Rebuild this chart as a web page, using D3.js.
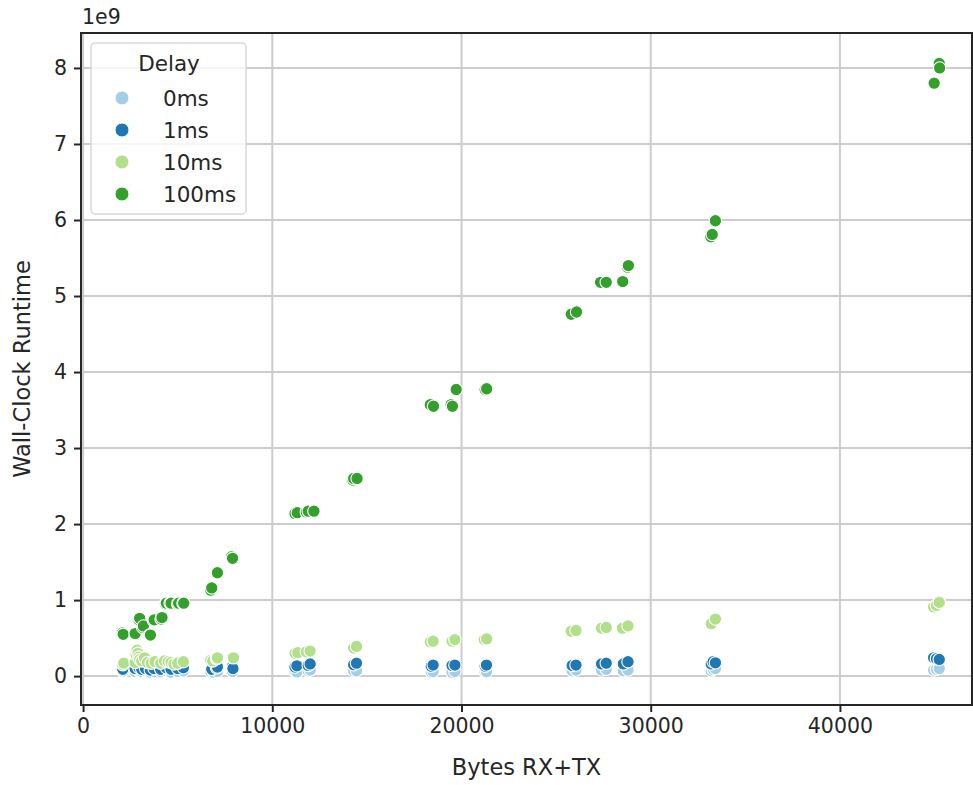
<!DOCTYPE html>
<html>
<head>
<meta charset="utf-8">
<script src="https://cdn.jsdelivr.net/npm/d3@7"></script>
<style>
  html, body { margin: 0; padding: 0; background: #ffffff; }
  svg { display: block; font-family: "DejaVu Sans", sans-serif; }
</style>
</head>
<body>
<svg id="chart" width="973" height="785"></svg>
<script>
// Delay levels and their colours (Paired palette)
const delays = ["0ms", "1ms", "10ms", "100ms"];
const colors = ["#a6cee3", "#1f78b4", "#b2df8a", "#33a02c"];

// Bytes exchanged (RX+TX) per run, one array per delay level
const bytes0ms = [2100, 2150, 2750, 2950, 3100, 3300, 3550, 3750, 4100, 4400, 4650, 5000, 5300,
  6750, 6900, 7100, 7850, 7900, 11200, 11300, 11900, 12000, 14300, 14450, 18400, 18500,
  19500, 19650, 21250, 21320, 25850, 26050, 27400, 27650, 28550, 28800, 33200, 33300, 33420,
  44950, 45100, 45250];
const runtime0ms = [0.06, 0.07, 0.06, 0.07, 0.06, 0.07, 0.05, 0.06, 0.06, 0.07, 0.05, 0.06, 0.07,
  0.06, 0.05, 0.06, 0.07, 0.06, 0.06, 0.055, 0.07, 0.08, 0.07, 0.07, 0.05, 0.06,
  0.05, 0.06, 0.05, 0.057, 0.07, 0.08, 0.08, 0.09, 0.07, 0.08, 0.07, 0.09, 0.10,
  0.08, 0.09, 0.10].map(v => v * 1e9);

const bytes1ms = [2100, 2750, 2950, 3100, 3300, 3550, 3750, 4100, 4400, 4650, 5000, 5300,
  6800, 7050, 7100, 7900, 7920, 11200, 11300, 11900, 12000, 14300, 14450, 18400, 18500,
  19500, 19650, 21250, 21320, 25850, 26050, 27400, 27650, 28550, 28800, 33200, 33300, 33420,
  44950, 45100, 45250];
const runtime1ms = [0.09, 0.10, 0.11, 0.09, 0.10, 0.08, 0.10, 0.09, 0.11, 0.09, 0.10, 0.11,
  0.09, 0.11, 0.12, 0.13, 0.10, 0.12, 0.135, 0.14, 0.16, 0.15, 0.17, 0.13, 0.145,
  0.14, 0.145, 0.13, 0.145, 0.14, 0.145, 0.16, 0.17, 0.16, 0.19, 0.16, 0.19, 0.175,
  0.24, 0.23, 0.22].map(v => v * 1e9);

const bytes10ms = [2100, 2150, 2750, 2800, 2850, 2900, 2950, 3000, 3100, 3250, 3400, 3600, 3800,
  4100, 4300, 4500, 4650, 4800, 5000, 5300, 6750, 6850, 7050, 7100, 7900, 7950,
  11200, 11350, 11800, 12000, 14300, 14450, 18350, 18500, 19500, 19650, 21200, 21330,
  25800, 26050, 27400, 27650, 28500, 28800, 33200, 33420, 44950, 45100, 45250];
const runtime10ms = [0.15, 0.17, 0.18, 0.28, 0.34, 0.30, 0.25, 0.22, 0.20, 0.24, 0.18, 0.17, 0.19,
  0.17, 0.20, 0.19, 0.18, 0.16, 0.17, 0.19, 0.21, 0.20, 0.23, 0.24, 0.25, 0.24,
  0.30, 0.31, 0.32, 0.33, 0.37, 0.39, 0.45, 0.46, 0.46, 0.48, 0.48, 0.49,
  0.59, 0.60, 0.63, 0.64, 0.63, 0.66, 0.69, 0.75, 0.91, 0.93, 0.97].map(v => v * 1e9);

const bytes100ms = [2080, 2120, 2750, 2950, 2990, 3150, 3190, 3520, 3560, 3720, 3760, 4120, 4170,
  4350, 4400, 4600, 4650, 5000, 5050, 5280, 5320, 6750, 6800, 7100, 7850, 7900,
  11200, 11320, 11800, 11900, 12200, 14250, 14300, 14480, 18350, 18520, 19450, 19520, 19720,
  21250, 21330, 25800, 26080, 27350, 27650, 28520, 28780, 28820, 33180, 33250, 33420,
  44980, 45250, 45270];
const runtime100ms = [0.57, 0.55, 0.56, 0.74, 0.76, 0.64, 0.66, 0.54, 0.54, 0.73, 0.74, 0.75, 0.77,
  0.95, 0.96, 0.96, 0.96, 0.95, 0.96, 0.96, 0.96, 1.13, 1.16, 1.36, 1.57, 1.55,
  2.14, 2.15, 2.16, 2.17, 2.17, 2.58, 2.60, 2.60, 3.57, 3.55, 3.57, 3.55, 3.77,
  3.77, 3.78, 4.76, 4.79, 5.18, 5.18, 5.19, 5.38, 5.40, 5.78, 5.81, 5.99,
  7.80, 8.06, 8.00].map(v => v * 1e9);

// Axis ticks
const xTicks = [0, 10000, 20000, 30000, 40000];
const yTicks = [0, 1e9, 2e9, 3e9, 4e9, 5e9, 6e9, 7e9, 8e9];

const series = [
  { delay: delays[0], color: colors[0], x: bytes0ms, y: runtime0ms },
  { delay: delays[1], color: colors[1], x: bytes1ms, y: runtime1ms },
  { delay: delays[2], color: colors[2], x: bytes10ms, y: runtime10ms },
  { delay: delays[3], color: colors[3], x: bytes100ms, y: runtime100ms }
];

const svg = d3.select("#chart");
const m = { left: 81, right: 972, top: 33, bottom: 705 };

const x = d3.scaleLinear().domain([-110, 46980]).range([m.left, m.right]);
const y = d3.scaleLinear().domain([-0.38e9, 8.46e9]).range([m.bottom, m.top]);

const textColor = "#262626";
const gridColor = "#cccccc";

// grid lines
const grid = svg.append("g");
grid.selectAll("line.gx").data(xTicks).join("line")
  .attr("x1", d => x(d)).attr("x2", d => x(d))
  .attr("y1", m.top).attr("y2", m.bottom)
  .attr("stroke", gridColor).attr("stroke-width", 2);
grid.selectAll("line.gy").data(yTicks).join("line")
  .attr("y1", d => y(d)).attr("y2", d => y(d))
  .attr("x1", m.left).attr("x2", m.right)
  .attr("stroke", gridColor).attr("stroke-width", 2);

// points, drawn in delay order
const plot = svg.append("g");
series.forEach(s => {
  plot.append("g").selectAll("circle")
    .data(s.x.map((v, i) => [v, s.y[i]]))
    .join("circle")
    .attr("cx", d => x(d[0]))
    .attr("cy", d => y(d[1]))
    .attr("r", 6.2)
    .attr("fill", s.color)
    .attr("stroke", "#ffffff")
    .attr("stroke-width", 1.1);
});

// axes
const xAxis = d3.axisBottom(x).tickValues(xTicks).tickFormat(d3.format("d"))
  .tickSizeInner(7).tickSizeOuter(0).tickPadding(6);
const yAxis = d3.axisLeft(y).tickValues(yTicks).tickFormat(d => d3.format("d")(d / 1e9))
  .tickSizeInner(7).tickSizeOuter(0).tickPadding(7);

const gx = svg.append("g").attr("transform", `translate(0,${m.bottom})`).call(xAxis);
const gy = svg.append("g").attr("transform", `translate(${m.left},0)`).call(yAxis);
[gx, gy].forEach(g => {
  g.select(".domain").remove();
  g.selectAll(".tick line").attr("stroke", textColor).attr("stroke-width", 2);
  g.selectAll(".tick text").attr("fill", textColor)
    .style("font-family", "DejaVu Sans").style("font-size", "20.5px");
});

// frame
svg.append("rect")
  .attr("x", m.left).attr("y", m.top)
  .attr("width", m.right - m.left).attr("height", m.bottom - m.top)
  .attr("fill", "none").attr("stroke", textColor).attr("stroke-width", 2);

// offset text
svg.append("text").attr("x", m.left + 1).attr("y", 24)
  .attr("fill", textColor).style("font-size", "20.5px").text("1e9");

// axis labels
svg.append("text").attr("x", (m.left + m.right) / 2).attr("y", 775)
  .attr("text-anchor", "middle").attr("fill", textColor)
  .style("font-size", "22.5px").text("Bytes RX+TX");
svg.append("text")
  .attr("transform", `translate(30,${(m.top + m.bottom) / 2}) rotate(-90)`)
  .attr("text-anchor", "middle").attr("fill", textColor)
  .style("font-size", "22.5px").text("Wall-Clock Runtime");

// legend
const lg = svg.append("g").attr("transform", "translate(91,43)");
lg.append("rect").attr("width", 155).attr("height", 171).attr("rx", 4)
  .attr("fill", "#ffffff").attr("fill-opacity", 0.8)
  .attr("stroke", "#d8d8d8").attr("stroke-width", 1.5);
lg.append("text").attr("x", 78).attr("y", 28).attr("text-anchor", "middle")
  .attr("fill", textColor).style("font-size", "21.5px").text("Delay");
series.forEach((s, i) => {
  const cy = 55 + i * 32;
  lg.append("circle").attr("cx", 31).attr("cy", cy).attr("r", 7)
    .attr("fill", s.color).attr("stroke", "#ffffff").attr("stroke-width", 1);
  lg.append("text").attr("x", 72).attr("y", cy + 7.5)
    .attr("fill", textColor).style("font-size", "21.5px").text(s.delay);
});
</script>
</body>
</html>
